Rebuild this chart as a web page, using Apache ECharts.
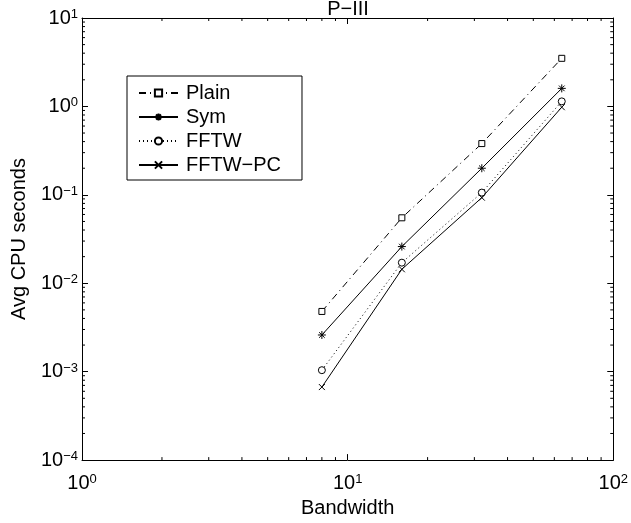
<!DOCTYPE html>
<html>
<head>
<meta charset="utf-8">
<script src="https://cdn.jsdelivr.net/npm/echarts@6/dist/echarts.min.js"></script>
<style>html,body{margin:0;padding:0;background:#fff}#c{width:631px;height:523px}</style>
</head>
<body>
<div id="c"></div>
<script>
const titleText = 'P\u2212III';
const xName = 'Bandwidth';
const yName = 'Avg CPU seconds';
const bandwidth = [8, 16, 32, 64];
const plain = [0.0048, 0.055, 0.38, 3.5];
const sym = [0.0026, 0.026, 0.20, 1.6];
const fftw = [0.00104, 0.0171, 0.106, 1.14];
const fftwPc = [0.00067, 0.0144, 0.093, 0.98];
const seriesNames = ['Plain', 'Sym', 'FFTW', 'FFTW\u2212PC'];
const xMinorTicks = [2,3,4,5,6,7,8,9,20,30,40,50,60,70,80,90];
const yMinorTicks = [];
[0.0001, 0.001, 0.01, 0.1, 1].forEach(d => { for (let k = 2; k <= 9; k++) yMinorTicks.push(+(d * k).toPrecision(3)); });

const FONT = '"Liberation Sans", Arial, Helvetica, sans-serif';
const FS = 20;
const chart = echarts.init(document.getElementById('c'));

function powLabel(v) {
  const e = Math.round(Math.log10(v));
  const es = e < 0 ? '\u2212' + (-e) : '' + e;
  return '{b|10}{s|' + es + '}';
}
const rich = {
  b: { fontSize: FS, fontFamily: FONT, color: '#000', padding: [8, 0, 0, 0], verticalAlign: 'bottom', lineHeight: 20 },
  s: { fontSize: 13, fontFamily: FONT, color: '#000', verticalAlign: 'top', lineHeight: 13 }
};

function axisBase(extra) {
  return Object.assign({
    type: 'log', logBase: 10,
    axisLine: { show: true, onZero: false, lineStyle: { color: '#000', width: 1 } },
    axisTick: { show: true, inside: true, length: 6, lineStyle: { color: '#000', width: 1 } },
    splitLine: { show: false },
    minorTick: { show: false },
    nameTextStyle: { fontSize: FS, fontFamily: FONT, color: '#000' }
  }, extra);
}

function lineSeries(name, data, lineType, symbol, size, symColor) {
  return {
    type: 'line', name: name,
    data: bandwidth.map((b, i) => [b, data[i]]),
    symbol: symbol, symbolSize: size, showSymbol: true,
    lineStyle: { color: '#000', width: 1, type: lineType },
    itemStyle: { color: symColor, borderColor: '#000', borderWidth: 1 },
    emphasis: { disabled: true },
    z: 3
  };
}

const starPath = 'path://M0,-10 L0,10 M-10,0 L10,0 M-7,-7 L7,7 M-7,7 L7,-7';
const xPath = 'path://M-10,-10 L10,10 M-10,10 L10,-10';

chart.setOption({
  animation: false,
  backgroundColor: '#fff',
  title: { text: titleText, left: 348, textAlign: 'center', top: -1, padding: 0, textStyle: { fontSize: FS, fontWeight: 'normal', fontFamily: FONT, color: '#000' } },
  grid: { left: 82, right: 17, top: 15, bottom: 61, containLabel: false },
  legend: {
    data: seriesNames,
    orient: 'vertical', left: 127, top: 76,
    padding: [6, 21, 4, 11],
    itemWidth: 39, itemHeight: 9, itemGap: 2,
    borderColor: '#000', borderWidth: 1, backgroundColor: '#fff',
    textStyle: { fontSize: FS, fontFamily: FONT, color: '#000', lineHeight: 22, padding: [0, 0, 0, 3] },
    selectedMode: false
  },
  xAxis: [
    axisBase({ position: 'bottom', min: 1, max: 100, name: xName, nameLocation: 'middle', nameGap: 36,
      axisLabel: { formatter: powLabel, rich: rich, margin: 13 } }),
    axisBase({ position: 'top', min: 1, max: 100, axisLabel: { show: false } })
  ],
  yAxis: [
    axisBase({ position: 'left', min: 0.0001, max: 10, name: yName, nameLocation: 'middle', nameGap: 53,
      axisLabel: { formatter: powLabel, rich: rich, margin: 4 } }),
    axisBase({ position: 'right', min: 0.0001, max: 10, axisLabel: { show: false } })
  ],
  series: [
    lineSeries(seriesNames[0], plain, [7, 4, 1, 4], 'rect', 6, '#fff'),
    lineSeries(seriesNames[1], sym, 'solid', starPath, 8, '#000'),
    lineSeries(seriesNames[2], fftw, [1, 3], 'circle', 7, '#fff'),
    lineSeries(seriesNames[3], fftwPc, 'solid', xPath, 6, '#000'),
    {
      type: 'custom', silent: true, z: 2,
      data: xMinorTicks.map(v => [v, 1]),
      renderItem: function (params, api) {
        const p = api.coord([api.value(0), 1]);
        const cs = params.coordSys;
        const st = { stroke: '#000', lineWidth: 1 };
        return { type: 'group', children: [
          { type: 'line', shape: { x1: p[0], y1: cs.y + cs.height, x2: p[0], y2: cs.y + cs.height - 3 }, style: st },
          { type: 'line', shape: { x1: p[0], y1: cs.y, x2: p[0], y2: cs.y + 3 }, style: st }
        ] };
      }
    },
    {
      type: 'custom', silent: true, z: 2,
      data: yMinorTicks.map(v => [1, v]),
      renderItem: function (params, api) {
        const p = api.coord([1, api.value(1)]);
        const cs = params.coordSys;
        const st = { stroke: '#000', lineWidth: 1 };
        return { type: 'group', children: [
          { type: 'line', shape: { x1: cs.x, y1: p[1], x2: cs.x + 3, y2: p[1] }, style: st },
          { type: 'line', shape: { x1: cs.x + cs.width, y1: p[1], x2: cs.x + cs.width - 3, y2: p[1] }, style: st }
        ] };
      }
    }
  ]
});
</script>
</body>
</html>
